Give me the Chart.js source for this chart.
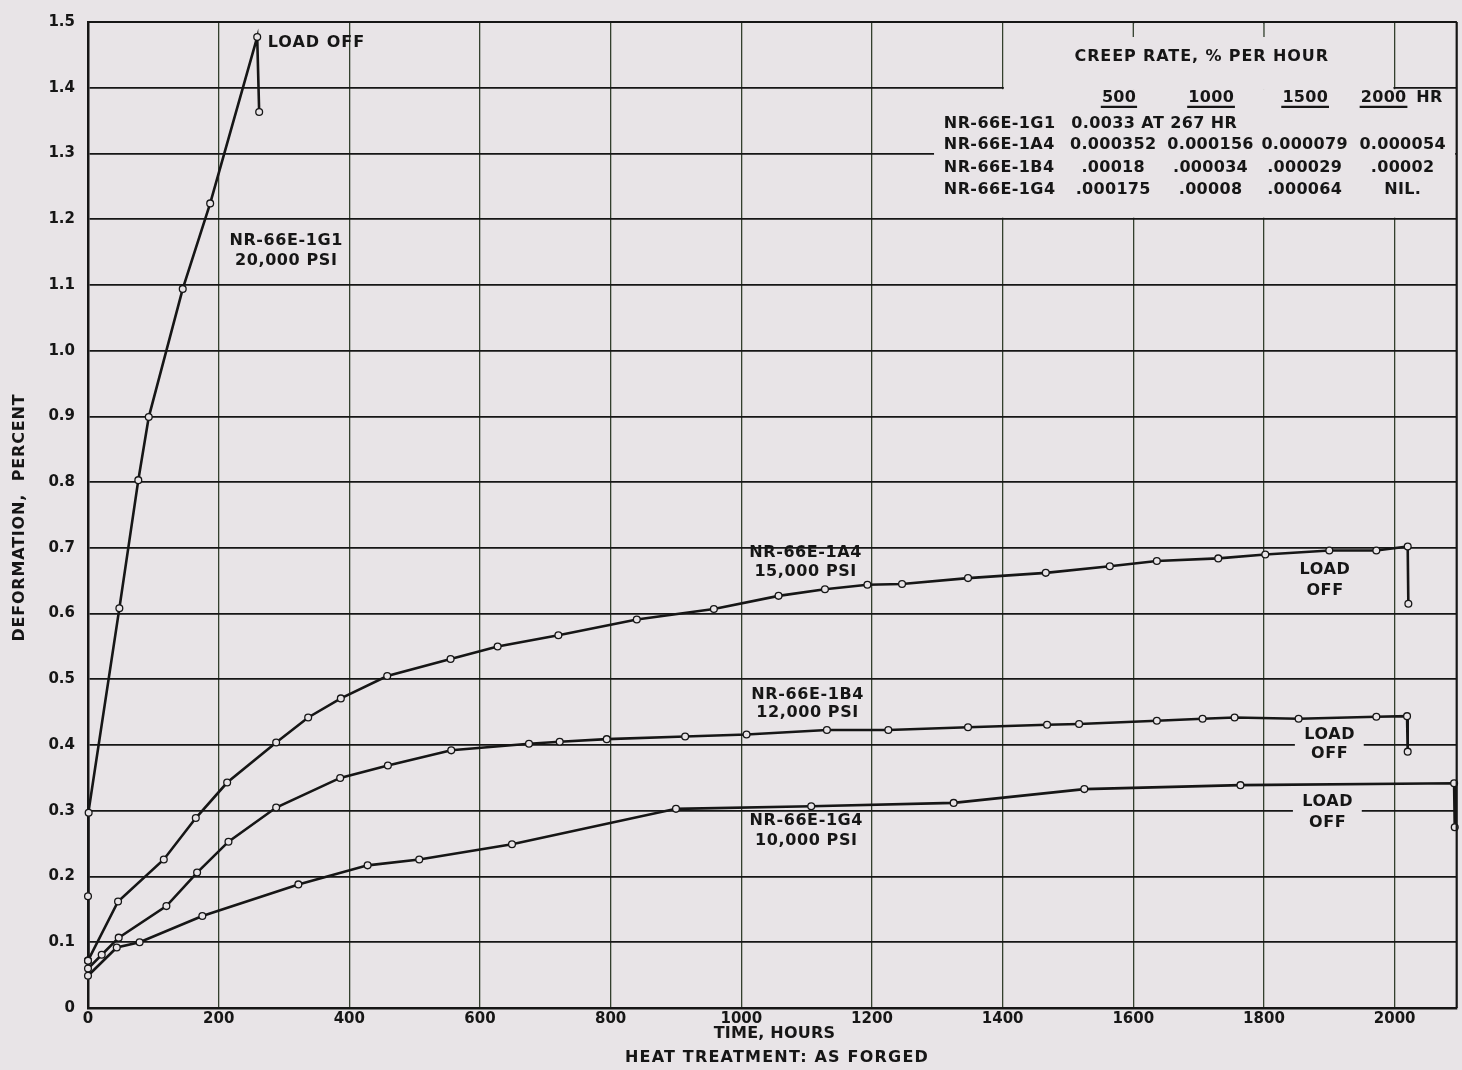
<!DOCTYPE html>
<html>
<head>
<meta charset="utf-8">
<script src="https://cdn.jsdelivr.net/npm/chart.js@4.4.1/dist/chart.umd.min.js"></script>
<style>
  html, body { margin: 0; padding: 0; background: #e8e4e7; }
  #wrap { width: 1462px; height: 1070px; position: relative; }
</style>
</head>
<body>
<div id="wrap"><canvas id="chart"></canvas></div>
<script>
// Creep curves of the NR-66E specimens, as forged (hours / deformation %)
const hours1G1 = [0, 0, 1, 48, 77, 93, 145, 187, 259, 262];
const defo1G1  = [0.072, 0.170, 0.297, 0.608, 0.803, 0.899, 1.094, 1.224, 1.477, 1.363];

const hours1A4 = [0, 46, 116, 165, 213, 288, 337, 387, 458, 555, 627, 720, 840, 958, 1057, 1128, 1193, 1246, 1347, 1466, 1564, 1636, 1730, 1802, 1900, 1972, 2020, 2021];
const defo1A4  = [0.072, 0.162, 0.226, 0.289, 0.343, 0.404, 0.442, 0.471, 0.505, 0.531, 0.550, 0.567, 0.591, 0.607, 0.627, 0.637, 0.644, 0.645, 0.654, 0.662, 0.672, 0.680, 0.684, 0.690, 0.696, 0.696, 0.702, 0.615];

const hours1B4 = [0, 21, 47, 120, 167, 215, 288, 386, 459, 556, 675, 722, 794, 914, 1008, 1131, 1225, 1347, 1468, 1517, 1636, 1706, 1755, 1853, 1972, 2019, 2020];
const defo1B4  = [0.060, 0.081, 0.107, 0.155, 0.206, 0.253, 0.305, 0.350, 0.369, 0.392, 0.402, 0.405, 0.409, 0.413, 0.416, 0.423, 0.423, 0.427, 0.431, 0.432, 0.437, 0.440, 0.442, 0.440, 0.443, 0.444, 0.390];

const hours1G4 = [0, 44, 79, 175, 322, 428, 507, 649, 900, 1107, 1325, 1525, 1764, 2091, 2092];
const defo1G4  = [0.049, 0.092, 0.100, 0.140, 0.188, 0.217, 0.226, 0.249, 0.303, 0.307, 0.312, 0.333, 0.339, 0.342, 0.275];

const xTicks = [0, 200, 400, 600, 800, 1000, 1200, 1400, 1600, 1800, 2000];
const yTicks = [0, 0.1, 0.2, 0.3, 0.4, 0.5, 0.6, 0.7, 0.8, 0.9, 1.0, 1.1, 1.2, 1.3, 1.4, 1.5];

// creep rate table
const rateColumns = ['500', '1000', '1500', '2000'];
const rateSpecimens = ['NR-66E-1G1', 'NR-66E-1A4', 'NR-66E-1B4', 'NR-66E-1G4'];
const rate1A4 = ['0.000352', '0.000156', '0.000079', '0.000054'];
const rate1B4 = ['.00018', '.000034', '.000029', '.00002'];
const rate1G4 = ['.000175', '.00008', '.000064', 'NIL.'];
const rate1G1Note = '0.0033 AT 267 HR';

const paper = '#e8e4e7';
const ink = '#161616';
const gridGreen = '#33402e';
const FONT = '"DejaVu Sans", sans-serif';

const series = (hrs, vals) => ({
  data: hrs.map((h, i) => ({ x: h, y: vals[i] })),
  showLine: true,
  borderColor: ink,
  borderWidth: 2.6,
  pointRadius: 3.4,
  pointBorderWidth: 1.3,
  pointBorderColor: ink,
  pointBackgroundColor: paper,
  clip: false
});

function txt(ctx, s, x, y, size, sp, align) {
  ctx.font = 'bold ' + size + 'px ' + FONT;
  ctx.letterSpacing = sp + 'px';
  ctx.textAlign = align || 'center';
  ctx.textBaseline = 'middle';
  ctx.fillText(s, align ? x : x + sp / 2, y);
}

// paper background + frame
const paperPlugin = {
  id: 'paper',
  beforeDraw(chart) {
    const ctx = chart.ctx;
    ctx.save();
    ctx.fillStyle = paper;
    ctx.fillRect(0, 0, chart.width, chart.height);
    ctx.restore();
  },
  afterDraw(chart) {
    const { ctx, chartArea: a } = chart;
    ctx.save();
    ctx.strokeStyle = ink;
    ctx.lineWidth = 2.2;
    ctx.beginPath();
    ctx.moveTo(a.left, a.top); ctx.lineTo(a.right, a.top);
    ctx.moveTo(a.right, a.top); ctx.lineTo(a.right, a.bottom);
    ctx.stroke();
    ctx.restore();
  }
};

// blank block for the creep-rate table, then its text
const tablePlugin = {
  id: 'table',
  beforeDatasetsDraw(chart) {
    const { ctx, chartArea: a, scales: { x, y } } = chart;
    ctx.save();
    ctx.fillStyle = paper;
    const xl = x.getPixelForValue(1295);
    const y14 = y.getPixelForValue(1.4), y12 = y.getPixelForValue(1.2);
    ctx.fillRect(xl, y14 + 1.5, a.right - 1.5 - xl, y12 - y14 - 3);
    const x14 = x.getPixelForValue(1400) + 1.2, x20 = x.getPixelForValue(2000) - 1.2;
    ctx.fillRect(x14, a.top + 1.5, x20 - x14, y14 + 2 - a.top - 1.5);
    ctx.strokeStyle = gridGreen;
    ctx.lineWidth = 1.3;
    ctx.beginPath();
    [1600, 1800].forEach(t => {
      const p = x.getPixelForValue(t);
      ctx.moveTo(p, a.top); ctx.lineTo(p, a.top + 15);
    });
    ctx.stroke();

    ctx.fillStyle = ink;
    txt(ctx, 'CREEP RATE, % PER HOUR', x.getPixelForValue(1704), y.getPixelForValue(1.447), 16, 0.9);
    const colT = [1578, 1719, 1863, 1983];
    const yh = y.getPixelForValue(1.385), yu = y.getPixelForValue(1.371);
    ctx.strokeStyle = ink;
    ctx.lineWidth = 2.2;
    rateColumns.forEach((c, i) => {
      const cx = x.getPixelForValue(colT[i]);
      txt(ctx, c, cx, yh, 16, 0.3);
      const w = ctx.measureText(c).width;
      ctx.beginPath();
      ctx.moveTo(cx - w / 2 - 1, yu); ctx.lineTo(cx + w / 2 + 1, yu);
      ctx.stroke();
    });
    txt(ctx, 'HR', x.getPixelForValue(2033), yh, 16, 0.3, 'left');

    const rowV = [1.345, 1.313, 1.278, 1.244];
    const valT = [1569, 1718, 1862, 2012];
    rateSpecimens.forEach((s, r) => {
      txt(ctx, s, x.getPixelForValue(1310), y.getPixelForValue(rowV[r]), 16, 0.4, 'left');
    });
    txt(ctx, rate1G1Note, x.getPixelForValue(1505), y.getPixelForValue(rowV[0]), 16, 0.4, 'left');
    [rate1A4, rate1B4, rate1G4].forEach((row, r) => {
      row.forEach((s, i) => txt(ctx, s, x.getPixelForValue(valT[i]), y.getPixelForValue(rowV[r + 1]), 16, 0.3));
    });
    ctx.restore();
  }
};

// curve labels and axis titles
const notes = [
  { lines: ['LOAD OFF'], t: 275, v: [1.469], align: 'left', sp: 1 },
  { lines: ['NR-66E-1G1', '20,000 PSI'], t: 303, v: [1.167, 1.136], sp: 0.6 },
  { lines: ['NR-66E-1A4', '15,000 PSI'], t: 1098, v: [0.692, 0.664], sp: 0.6 },
  { lines: ['NR-66E-1B4', '12,000 PSI'], t: 1101, v: [0.476, 0.449], sp: 0.6 },
  { lines: ['NR-66E-1G4', '10,000 PSI'], t: 1099, v: [0.285, 0.255], sp: 0.6 },
  { lines: ['LOAD', 'OFF'], t: 1893, v: [0.667, 0.634], sp: 0.6 },
  { lines: ['LOAD', 'OFF'], t: 1900, v: [0.416, 0.386], sp: 0.6, bg: true },
  { lines: ['LOAD', 'OFF'], t: 1897, v: [0.314, 0.282], sp: 0.6, bg: true }
];

const labelPlugin = {
  id: 'labels',
  afterDatasetsDraw(chart) {
    const { ctx, chartArea: a, scales: { x, y } } = chart;
    ctx.save();
    notes.forEach(n => {
      const px = x.getPixelForValue(n.t);
      if (n.bg) {
        ctx.font = 'bold 16px ' + FONT;
        ctx.letterSpacing = n.sp + 'px';
        const w = Math.max(...n.lines.map(l => ctx.measureText(l).width));
        const top = y.getPixelForValue(n.v[0]) - 9, bot = y.getPixelForValue(n.v[n.v.length - 1]) + 9;
        ctx.fillStyle = paper;
        ctx.fillRect(px - w / 2 - 9, top, w + 18, bot - top);
      }
      ctx.fillStyle = ink;
      n.lines.forEach((l, i) => txt(ctx, l, px, y.getPixelForValue(n.v[i]), 16, n.sp, n.align));
    });

    const mid = (a.left + a.right) / 2;
    txt(ctx, 'TIME, HOURS', mid + 2, 1034, 16, 0.2);
    txt(ctx, 'HEAT TREATMENT: AS FORGED', mid + 4, 1058, 16, 1.2);
    ctx.save();
    ctx.translate(20, (a.top + a.bottom) / 2 + 3);
    ctx.rotate(-Math.PI / 2);
    txt(ctx, 'DEFORMATION,  PERCENT', 0, 0, 16, 0.8);
    ctx.restore();
    ctx.restore();
  }
};

new Chart(document.getElementById('chart'), {
  type: 'scatter',
  data: {
    datasets: [
      series(hours1G1, defo1G1),
      series(hours1A4, defo1A4),
      series(hours1B4, defo1B4),
      series(hours1G4, defo1G4)
    ]
  },
  options: {
    responsive: true,
    maintainAspectRatio: false,
    animation: false,
    layout: { padding: { top: 17, right: 5, left: 0, bottom: 0 } },
    plugins: { legend: { display: false }, tooltip: { enabled: false } },
    scales: {
      x: {
        type: 'linear', min: 0, max: 2095,
        afterBuildTicks: s => { s.ticks = xTicks.map(v => ({ value: v })); },
        afterFit: s => { s.height = 62; },
        grid: { color: gridGreen, lineWidth: 1.3, drawTicks: false },
        border: { display: true, color: ink, width: 2.5 },
        ticks: {
          padding: 2, color: ink, autoSkip: false, maxRotation: 0,
          font: { family: FONT, size: 15, weight: 'bold' },
          callback: v => String(v)
        }
      },
      y: {
        min: 0, max: 1.5,
        afterBuildTicks: s => { s.ticks = yTicks.map(v => ({ value: v })); },
        afterFit: s => { s.width = 88; },
        grid: { color: ink, lineWidth: 1.7, drawTicks: false },
        border: { display: true, color: ink, width: 2.5 },
        ticks: {
          padding: 13, color: ink, autoSkip: false,
          font: { family: FONT, size: 15, weight: 'bold' },
          callback: v => v === 0 ? '0' : v.toFixed(1)
        }
      }
    }
  },
  plugins: [paperPlugin, tablePlugin, labelPlugin]
});
</script>
</body>
</html>
